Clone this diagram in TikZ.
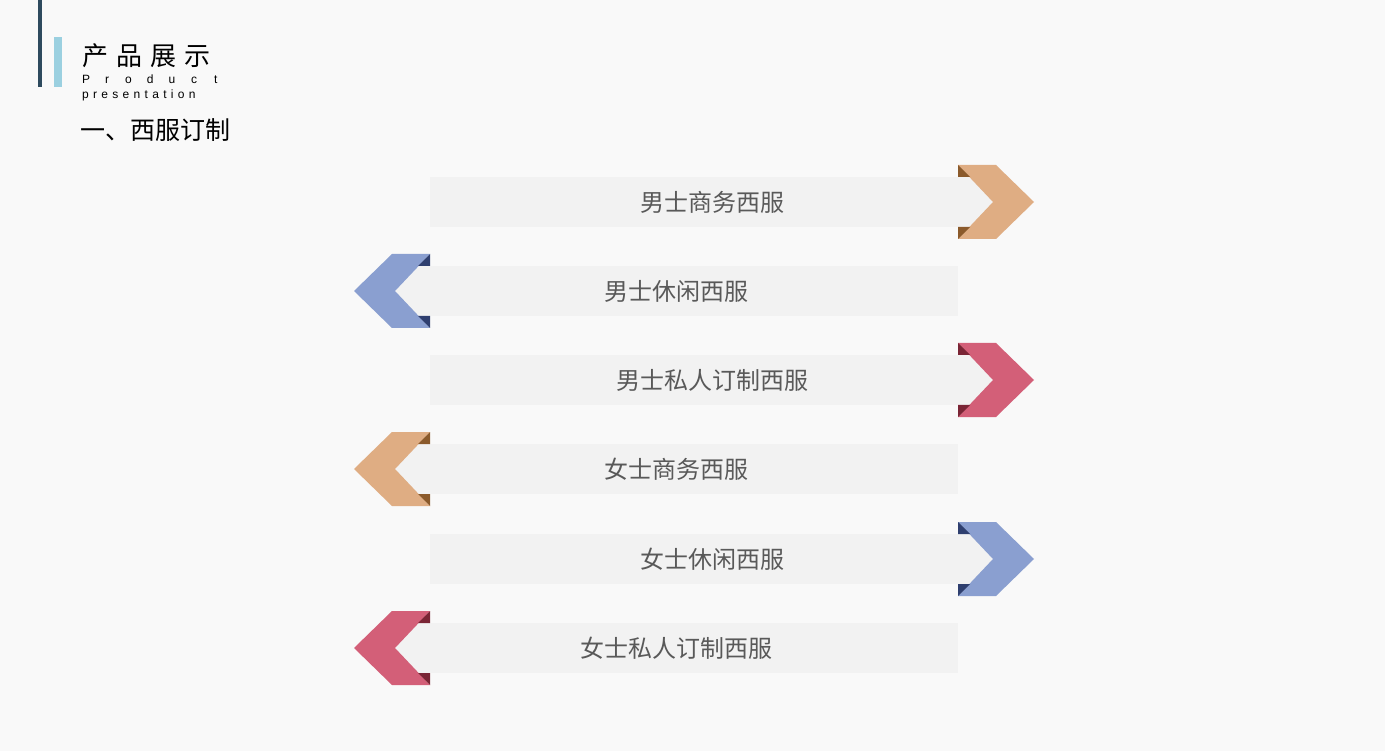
\documentclass[tikz,border=0pt]{standalone}
\usepackage{fontspec}
\setmainfont{Liberation Sans}
\newfontfamily\cjk{Noto Sans CJK SC}
\usetikzlibrary{positioning}
\definecolor{pagebg}{HTML}{F9F9F9}
\definecolor{barbg}{HTML}{F2F2F2}
\definecolor{txtgray}{HTML}{595959}
\definecolor{lineA}{HTML}{2E4A5E}
\definecolor{lineB}{HTML}{9BD0E0}
\definecolor{orangeA}{HTML}{DFAD83}
\definecolor{orangeB}{HTML}{8B5A2B}
\definecolor{blueA}{HTML}{8A9FD0}
\definecolor{blueB}{HTML}{2F3F6F}
\definecolor{redA}{HTML}{D35F78}
\definecolor{redB}{HTML}{7A2535}
% right and left pointing chevrons: #1 y centre, #2 face colour, #3 fold colour
\newcommand{\rchev}[3]{
  \fill[#2] (958,#1-37) -- (996,#1-37) -- (1034,#1) -- (996,#1+37) -- (958,#1+37) -- (993,#1) -- cycle;
  \fill[#3] (958,#1-37) -- (958,#1-25) -- (970,#1-25) -- cycle;
  \fill[#3] (958,#1+37) -- (958,#1+25) -- (970,#1+25) -- cycle;
}
\newcommand{\lchev}[3]{
  \fill[#2] (430,#1-37) -- (392,#1-37) -- (354,#1) -- (392,#1+37) -- (430,#1+37) -- (395,#1) -- cycle;
  \fill[#3] (430,#1-37) -- (430,#1-25) -- (418,#1-25) -- cycle;
  \fill[#3] (430,#1+37) -- (430,#1+25) -- (418,#1+25) -- cycle;
}
\begin{document}
\begin{tikzpicture}[x=1pt,y=-1pt,
    bar/.style={fill=barbg, minimum height=50pt, inner sep=0pt, text=txtgray, font=\cjk\fontsize{24}{28}\selectfont}]
  \fill[pagebg] (0,0) rectangle (1385,751);
  \useasboundingbox (0,0) rectangle (1385,751);
  % header
  \fill[lineA] (38,0) rectangle (42,87);
  \fill[lineB] (54,37) rectangle (62,87);
  \node (title) [anchor=west, inner sep=0pt, font=\cjk\fontsize{26}{28}\selectfont] at (82,56) {产\hspace{8pt}品\hspace{8pt}展\hspace{8pt}示};
  \node (sub1) [anchor=west, inner sep=0pt, font=\fontsize{12}{13}\selectfont] at (82,79) {P\hspace{15pt}r\hspace{16pt}o\hspace{15pt}d\hspace{15pt}u\hspace{16pt}c\hspace{17pt}t};
  \node (sub2) [anchor=west, inner sep=0pt, font=\fontsize{12}{13}\selectfont] at (82,95) {p\hspace{4.3pt}r\hspace{4.3pt}e\hspace{4.3pt}s\hspace{4.3pt}e\hspace{4.3pt}n\hspace{4.3pt}t\hspace{4.3pt}a\hspace{4.3pt}t\hspace{4.3pt}i\hspace{4.3pt}o\hspace{4.3pt}n};
  \node (section) [anchor=west, inner sep=0pt, font=\cjk\fontsize{25}{28}\selectfont] at (80,130) {一、西服订制};

  % rows
  \node (r1) [bar, minimum width=564pt] at (712,202) {男士商务西服};
  \node (r2) [bar, minimum width=564pt] at (676,291) {男士休闲西服};
  \node (r3) [bar, minimum width=564pt] at (712,380) {男士私人订制西服};
  \node (r4) [bar, minimum width=564pt] at (676,469) {女士商务西服};
  \node (r5) [bar, minimum width=564pt] at (712,559) {女士休闲西服};
  \node (r6) [bar, minimum width=564pt] at (676,648) {女士私人订制西服};

  % chevrons
  \rchev{202}{orangeA}{orangeB}
  \lchev{291}{blueA}{blueB}
  \rchev{380}{redA}{redB}
  \lchev{469}{orangeA}{orangeB}
  \rchev{559}{blueA}{blueB}
  \lchev{648}{redA}{redB}
\end{tikzpicture}
\end{document}
